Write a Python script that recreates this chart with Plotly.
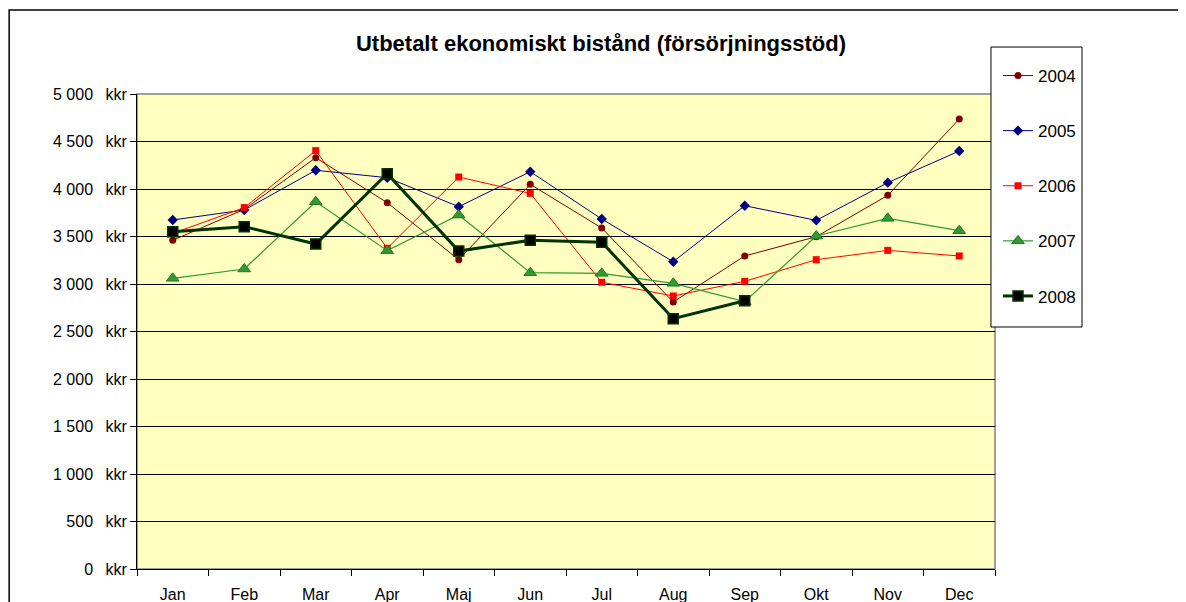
import plotly.graph_objects as go

months = ['Jan', 'Feb', 'Mar', 'Apr', 'Maj', 'Jun', 'Jul', 'Aug', 'Sep', 'Okt', 'Nov', 'Dec']

y2004 = [3460, 3786, 4330, 3856, 3256, 4049, 3589, 2811, 3295, 3498, 3933, 4737]
y2005 = [3674, 3779, 4197, 4119, 3814, 4182, 3684, 3235, 3824, 3670, 4067, 4400]
y2006 = [3533, 3804, 4404, 3376, 4126, 3954, 3018, 2874, 3028, 3256, 3354, 3295]
y2007 = [3060, 3158, 3866, 3351, 3726, 3119, 3112, 3007, 2814, 3505, 3691, 3561]
y2008 = [3551, 3603, 3421, 4161, 3347, 3460, 3439, 2635, 2824]

ytick_vals = [0, 500, 1000, 1500, 2000, 2500, 3000, 3500, 4000, 4500, 5000]
ytick_text = ['0 kkr', '500 kkr', '1 000 kkr', '1 500 kkr', '2 000 kkr', '2 500 kkr',
              '3 000 kkr', '3 500 kkr', '4 000 kkr', '4 500 kkr', '5 000 kkr']
# keep the wide Excel spacing (plotly would collapse plain spaces)
ytick_text = [t.replace(' kkr', '\u00a0\u2002kkr').replace(' ', '\u00a0') for t in ytick_text]

font = 'Liberation Sans, Arial, sans-serif'

fig = go.Figure()
fig.add_trace(go.Scatter(x=months, y=y2004, name='2004', legendgroup='a', mode='lines+markers',
                         line=dict(color='#800000', width=1),
                         marker=dict(symbol='circle', size=7, color='#800000')))
fig.add_trace(go.Scatter(x=months, y=y2005, name='2005', legendgroup='b', mode='lines+markers',
                         line=dict(color='#000080', width=1),
                         marker=dict(symbol='diamond', size=8, color='#000080')))
fig.add_trace(go.Scatter(x=months, y=y2006, name='2006', legendgroup='c', mode='lines+markers',
                         line=dict(color='#FF0000', width=1),
                         marker=dict(symbol='square', size=7, color='#FF0000')))
fig.add_trace(go.Scatter(x=months, y=y2007, name='2007', legendgroup='d', mode='lines+markers',
                         line=dict(color='#2E9A2E', width=1.2),
                         marker=dict(symbol='triangle-up', size=11, color='#339933',
                                     line=dict(color='#1E7A1E', width=1))))
fig.add_trace(go.Scatter(x=months[:len(y2008)], y=y2008, name='2008', legendgroup='e', mode='lines+markers',
                         line=dict(color='#003300', width=3),
                         marker=dict(symbol='square', size=10, color='#000000',
                                     line=dict(color='#003300', width=1.5))))

# outer chart frame, plot-area border and legend box
fig.add_shape(type='rect', xref='paper', yref='paper', x0=-0.149, x1=1.4, y0=-0.3, y1=1.177,
              line=dict(color='#000000', width=1.5), fillcolor='rgba(0,0,0,0)', layer='below')
fig.add_shape(type='rect', xref='x domain', yref='y domain', x0=0, x1=1, y0=0, y1=1,
              line=dict(color='#808080', width=1.5), fillcolor='rgba(0,0,0,0)', layer='below')
fig.add_shape(type='rect', xref='paper', yref='paper', x0=0.9953, x1=1.1014, y0=0.5095, y1=1.0989,
              line=dict(color='#000000', width=1), fillcolor='white', layer='above')

fig.update_layout(
    width=1186, height=602,
    margin=dict(l=129, r=199, t=86, b=41),
    paper_bgcolor='white', plot_bgcolor='#FFFFC0',
    font=dict(family=font, size=16, color='#000000'),
    title=dict(text='<b>Utbetalt ekonomiskt bistånd (försörjningsstöd)</b>',
               font=dict(family=font, size=22, color='#000000'),
               xref='container', x=0.5, xanchor='center',
               yref='container', y=0.942, yanchor='middle'),
    legend=dict(x=1.0035, xanchor='left', y=1.0758, yanchor='top',
                bgcolor='rgba(0,0,0,0)', borderwidth=0,
                font=dict(family=font, size=17), tracegroupgap=30,
                traceorder='grouped'),
    showlegend=True,
)
fig.update_xaxes(type='category', range=[-0.5, 11.5], showgrid=False, automargin=False,
                 showline=True, linecolor='#000000', linewidth=1,
                 ticks='outside', tickson='boundaries', ticklen=6, tickcolor='#000000',
                 ticklabelstandoff=11, tickfont=dict(size=16))
fig.update_yaxes(range=[0, 5000], tickvals=ytick_vals, ticktext=ytick_text, automargin=False,
                 showgrid=True, gridcolor='#000000', gridwidth=1, zeroline=False,
                 showline=True, linecolor='#000000', linewidth=1,
                 ticks='outside', ticklen=6, tickcolor='#000000', tickfont=dict(size=16))

fig.write_html("out.html")
